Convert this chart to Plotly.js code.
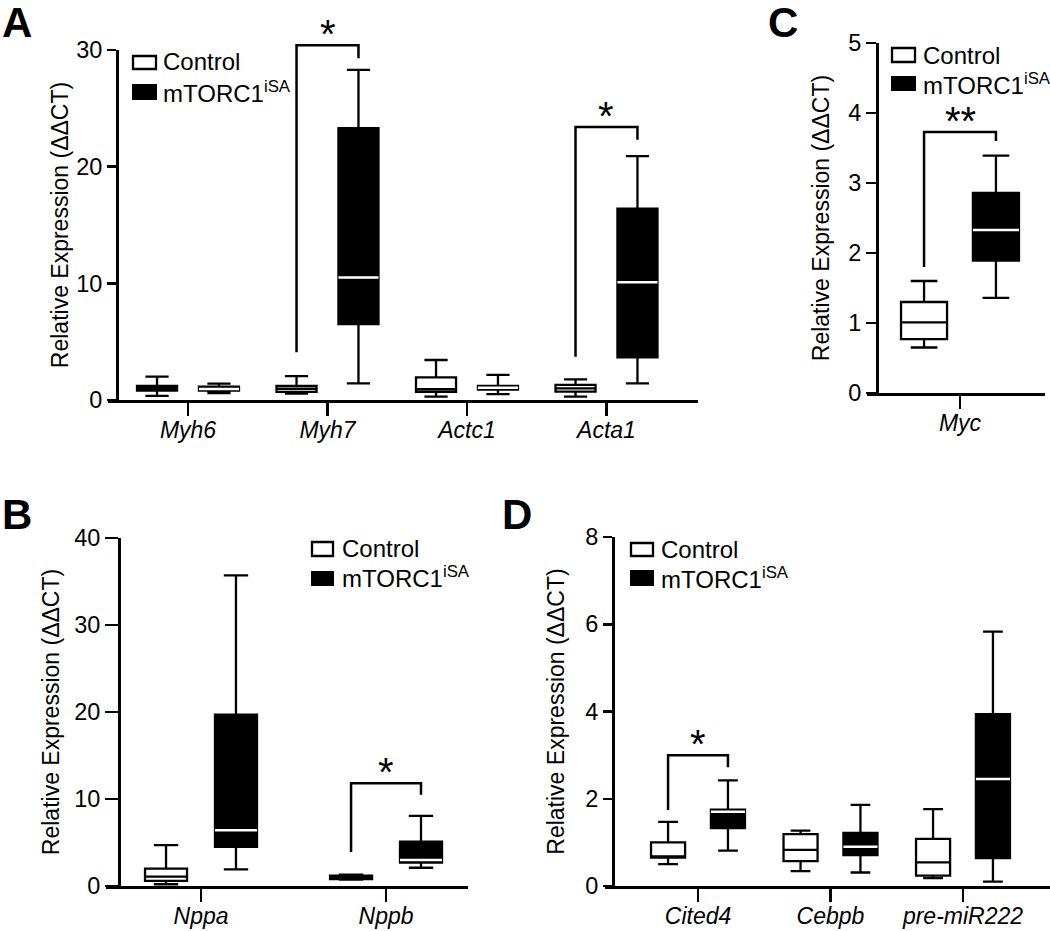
<!DOCTYPE html>
<html><head><meta charset="utf-8">
<script src="https://cdn.plot.ly/plotly-3.0.1.min.js"></script>
<style>html,body{margin:0;padding:0;background:#fff}#chart{width:1050px;height:931px}</style>
</head><body><div id="chart"></div>
<script>
// ---------------- data ----------------
// Panel A
const catsA = ['Myh6', 'Myh7', 'Actc1', 'Acta1'];
const ctrlA_lower = [0.35, 0.55, 0.29, 0.29];
const ctrlA_q1    = [0.80, 0.70, 0.69, 0.71];
const ctrlA_med   = [1.00, 0.95, 0.92, 1.00];
const ctrlA_q3    = [1.20, 1.20, 1.94, 1.29];
const ctrlA_upper = [2.00, 2.05, 3.43, 1.77];
const mtA_lower = [0.60, 1.43, 0.50, 1.43];
const mtA_q1    = [0.80, 6.50, 0.90, 3.66];
const mtA_med   = [0.95, 10.5, 1.05, 10.1];
const mtA_q3    = [1.15, 23.3, 1.20, 16.4];
const mtA_upper = [1.40, 28.3, 2.15, 20.9];

// Panel B
const catsB = ['Nppa', 'Nppb'];
const ctrlB_lower = [0.20, 0.75];
const ctrlB_q1    = [0.60, 0.80];
const ctrlB_med   = [1.07, 1.00];
const ctrlB_q3    = [2.00, 1.20];
const ctrlB_upper = [4.70, 1.30];
const mtB_lower = [1.9, 2.1];
const mtB_q1    = [4.5, 2.7];
const mtB_med   = [6.4, 3.0];
const mtB_q3    = [19.7, 5.1];
const mtB_upper = [35.7, 8.05];

// Panel C
const catsC = ['Myc'];
const ctrlC_lower = [0.65];
const ctrlC_q1    = [0.77];
const ctrlC_med   = [1.01];
const ctrlC_q3    = [1.30];
const ctrlC_upper = [1.60];
const mtC_lower = [1.36];
const mtC_q1    = [1.89];
const mtC_med   = [2.33];
const mtC_q3    = [2.86];
const mtC_upper = [3.39];

// Panel D
const catsD = ['Cited4', 'Cebpb', 'pre-miR222'];
const ctrlD_lower = [0.50, 0.34, 0.18];
const ctrlD_q1    = [0.65, 0.57, 0.24];
const ctrlD_med   = [0.68, 0.83, 0.54];
const ctrlD_q3    = [1.00, 1.19, 1.08];
const ctrlD_upper = [1.47, 1.27, 1.76];
const mtD_lower = [0.81, 0.31, 0.10];
const mtD_q1    = [1.33, 0.71, 0.64];
const mtD_med   = [1.70, 0.90, 2.45];
const mtD_q3    = [1.75, 1.22, 3.94];
const mtD_upper = [2.42, 1.86, 5.83];

// Significance brackets: [category index, left foot, top, right foot, label]
const sigA = [[1, 4.1, 30.4, 29.3, '*'], [3, 3.7, 23.4, 22.3, '*']];
const sigB = [[1, 3.9, 11.8, 10.5, '*']];
const sigC = [[0, 1.8, 3.73, 3.6, '**']];
const sigD = [[0, 1.74, 3.0, 2.72, '*']];

const seriesNames = ['Control', 'mTORC1<sup>iSA</sup>'];
const yTitle = 'Relative Expression (ΔΔCT)';
const panelLetters = ['A', 'B', 'C', 'D'];

// ---------------- helpers ----------------
const W = 1050, H = 931;
const px = x => x / W;
const py = y => 1 - y / H;
const FONT = '"Liberation Sans", Arial, Helvetica, sans-serif';

function boxTraces(ax, cats, ctrl, mt, off, wid) {
  const xs = s => cats.map((c, i) => i + s * off);
  const base = {type: 'box', xaxis: 'x' + ax, yaxis: 'y' + ax, width: wid, whiskerwidth: 0.58,
    hoverinfo: 'skip', showlegend: false, boxpoints: false};
  return [
    Object.assign({}, base, {name: seriesNames[0], x: xs(-1), lowerfence: ctrl[0], q1: ctrl[1], median: ctrl[2], q3: ctrl[3], upperfence: ctrl[4],
      fillcolor: '#ffffff', line: {color: '#000000', width: 2.3}}),
    Object.assign({}, base, {name: seriesNames[1], x: xs(1), lowerfence: mt[0], q1: mt[1], median: mt[2], q3: mt[3], upperfence: mt[4],
      fillcolor: '#000000', line: {color: '#000000', width: 2.3}}),
    Object.assign({}, base, {name: 'median', x: xs(1), lowerfence: mt[2], q1: mt[2], median: mt[2], q3: mt[2], upperfence: mt[2],
      whiskerwidth: 0, fillcolor: '#ffffff', line: {color: '#ffffff', width: 2.5}})
  ];
}

function xAx(dom, range, cats, anchor) {
  return {domain: [px(dom[0]), px(dom[1])], range: range, anchor: anchor, tickmode: 'array',
    tickvals: cats.map((c, i) => i), ticktext: cats.map(c => '<i>' + c + '</i>'),
    ticks: 'outside', ticklen: 13, tickwidth: 2.5, tickcolor: '#000', showline: true, linewidth: 2.5,
    linecolor: '#000', showgrid: false, zeroline: false, tickfont: {size: 23, color: '#000'},
    ticklabelstandoff: -5, fixedrange: true};
}
function yAx(dom, range, dtick, pos, ticklen, standoff) {
  return {domain: [py(dom[0]), py(dom[1])], range: range, anchor: 'free', position: px(pos), dtick: dtick, tick0: 0,
    ticks: 'outside', ticklen: ticklen, tickwidth: 2.5, tickcolor: '#000', showline: true, linewidth: 2.5,
    linecolor: '#000', showgrid: false, zeroline: false, tickfont: {size: 23.5, color: '#000'}, fixedrange: true,
    title: {text: yTitle, font: {size: 23, color: '#000'}, standoff: standoff}};
}

const offA = 0.222, widA = 0.287;
const offB = 0.189, widB = 0.227;
const offC = 0.214, widC = 0.274;
const offD = 0.226, widD = 0.257;

const data = [].concat(
  boxTraces('', catsA, [ctrlA_lower, ctrlA_q1, ctrlA_med, ctrlA_q3, ctrlA_upper], [mtA_lower, mtA_q1, mtA_med, mtA_q3, mtA_upper], offA, widA),
  boxTraces('2', catsB, [ctrlB_lower, ctrlB_q1, ctrlB_med, ctrlB_q3, ctrlB_upper], [mtB_lower, mtB_q1, mtB_med, mtB_q3, mtB_upper], offB, widB),
  boxTraces('3', catsC, [ctrlC_lower, ctrlC_q1, ctrlC_med, ctrlC_q3, ctrlC_upper], [mtC_lower, mtC_q1, mtC_med, mtC_q3, mtC_upper], offC, widC),
  boxTraces('4', catsD, [ctrlD_lower, ctrlD_q1, ctrlD_med, ctrlD_q3, ctrlD_upper], [mtD_lower, mtD_q1, mtD_med, mtD_q3, mtD_upper], offD, widD)
);

const shapes = [];
const annotations = [];

function addSig(ax, sig, off, yr) {
  sig.forEach(s => {
    const [ci, footL, top, footR, label] = s;
    const f = v => (v - yr[0]) / (yr[1] - yr[0]);
    shapes.push({type: 'path', xref: 'x' + ax, yref: 'y' + ax + ' domain',
      path: 'M' + (ci - off) + ',' + f(footL) + ' L' + (ci - off) + ',' + f(top) + ' L' + (ci + off) + ',' + f(top) + ' L' + (ci + off) + ',' + f(footR),
      line: {color: '#000', width: 2.5}});
    annotations.push({xref: 'x' + ax, yref: 'y' + ax + ' domain', x: ci, y: f(top), text: label,
      showarrow: false, xanchor: 'center', yanchor: 'middle', yshift: 11, font: {size: 40, color: '#000'}});
  });
}
addSig('', sigA, offA, [0, 30]);
addSig('2', sigB, offB, [0, 40]);
addSig('3', sigC, offC, [0, 5]);
addSig('4', sigD, offD, [0, 8]);

function addLegend(x0, x1, textX, yt1, yt2, yb1, yb2) {
  shapes.push({type: 'rect', xref: 'paper', yref: 'paper', x0: px(x0), x1: px(x1), y0: py(yb1[0]), y1: py(yb1[1]),
    fillcolor: '#fff', line: {color: '#000', width: 2.3}});
  shapes.push({type: 'rect', xref: 'paper', yref: 'paper', x0: px(x0), x1: px(x1), y0: py(yb2[0]), y1: py(yb2[1]),
    fillcolor: '#000', line: {color: '#000', width: 2}});
  annotations.push({xref: 'paper', yref: 'paper', x: px(textX), y: py(yt1), text: seriesNames[0], showarrow: false,
    xanchor: 'left', yanchor: 'middle', font: {size: 24, color: '#000'}});
  annotations.push({xref: 'paper', yref: 'paper', x: px(textX), y: py(yt2), text: seriesNames[1], showarrow: false,
    xanchor: 'left', yanchor: 'middle', font: {size: 24, color: '#000'}});
}
addLegend(133, 156, 161, 62, 92, [56, 69], [85, 99]);
addLegend(312, 333, 340, 548, 577, [542, 556], [572, 585]);
addLegend(892, 915, 921, 55, 84, [48, 62], [77, 90]);
addLegend(631, 653, 659, 549, 578, [543, 556], [571, 585]);

const letterPos = [[0, 22], [0, 514], [766, 22], [500, 514]];
panelLetters.forEach((L, i) => {
  annotations.push({xref: 'paper', yref: 'paper', x: px(letterPos[i][0]), y: py(letterPos[i][1]), text: '<b>' + L + '</b>',
    showarrow: false, xanchor: 'left', yanchor: 'middle', font: {size: 42, color: '#000'}});
});

const layout = {
  width: W, height: H, margin: {l: 0, r: 0, t: 0, b: 0},
  paper_bgcolor: '#fff', plot_bgcolor: 'rgba(0,0,0,0)', showlegend: false,
  boxmode: 'overlay', boxgap: 0, boxgroupgap: 0,
  font: {family: FONT, size: 23, color: '#000'},
  xaxis:  xAx([108, 698], [-0.5735, 3.656], catsA, 'y'),
  yaxis:  yAx([400, 50], [0, 30], 10, 117, 9, 0),
  xaxis2: xAx([106, 468], [-0.5135, 1.443], catsB, 'y2'),
  yaxis2: yAx([886, 538], [0, 40], 10, 119, 13, 7),
  xaxis3: xAx([867, 1045], [-0.5536, 0.506], catsC, 'y3'),
  yaxis3: yAx([393, 43], [0, 5], 1, 877, 10, 11),
  xaxis4: xAx([605, 1050], [-0.7019, 2.6566], catsD, 'y4'),
  yaxis4: yAx([886, 537], [0, 8], 2, 613, 9, 13),
  shapes: shapes,
  annotations: annotations
};

Plotly.newPlot('chart', data, layout, {displayModeBar: false, staticPlot: true});
</script>
</body></html>
